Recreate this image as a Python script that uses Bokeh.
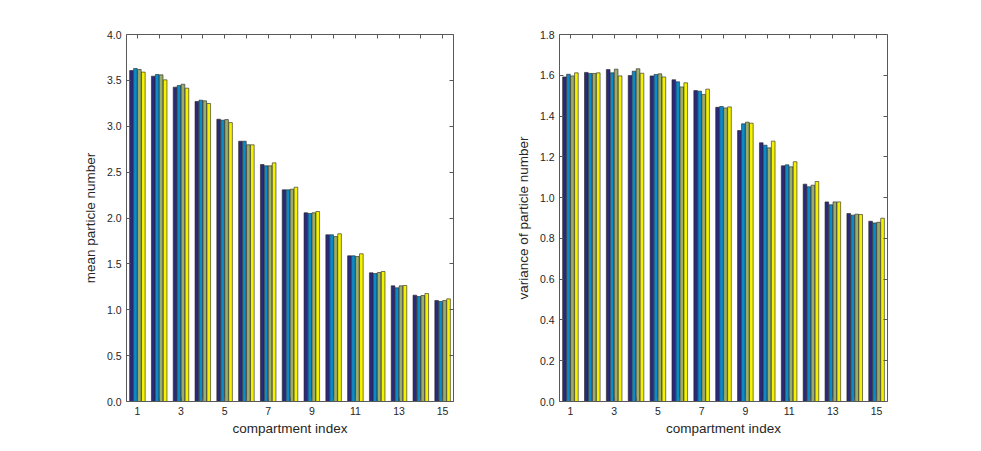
import numpy as np
from bokeh.plotting import figure
from bokeh.layouts import row
from bokeh.models import Range1d, LinearAxis, FixedTicker, ColumnDataSource
from bokeh.embed import file_html
from bokeh.resources import INLINE

compartments = list(range(1, 16))
tick_labels = {i: (str(i) if i % 2 == 1 else "") for i in compartments}

# mean particle number, 4 series
mean_s1 = [3.607, 3.546, 3.426, 3.270, 3.077, 2.837, 2.583, 2.307, 2.057, 1.817, 1.588, 1.403, 1.261, 1.159, 1.101]
mean_s2 = [3.630, 3.564, 3.444, 3.284, 3.066, 2.837, 2.569, 2.307, 2.049, 1.817, 1.588, 1.395, 1.239, 1.144, 1.090]
mean_s3 = [3.618, 3.560, 3.458, 3.277, 3.073, 2.798, 2.569, 2.314, 2.057, 1.798, 1.580, 1.406, 1.261, 1.155, 1.101]
mean_s4 = [3.590, 3.506, 3.415, 3.248, 3.040, 2.798, 2.601, 2.336, 2.071, 1.828, 1.610, 1.417, 1.264, 1.177, 1.119]

# variance of particle number, 4 series
var_s1 = [1.592, 1.614, 1.628, 1.599, 1.597, 1.578, 1.525, 1.443, 1.329, 1.269, 1.156, 1.066, 0.979, 0.922, 0.884]
var_s2 = [1.605, 1.609, 1.612, 1.620, 1.604, 1.568, 1.522, 1.447, 1.362, 1.257, 1.161, 1.053, 0.965, 0.914, 0.876]
var_s3 = [1.597, 1.609, 1.630, 1.632, 1.607, 1.543, 1.506, 1.440, 1.370, 1.244, 1.151, 1.061, 0.979, 0.919, 0.879]
var_s4 = [1.612, 1.612, 1.597, 1.610, 1.592, 1.563, 1.532, 1.445, 1.365, 1.277, 1.176, 1.079, 0.979, 0.917, 0.899]

colors = ["#2b2a7a", "#0d8bc8", "#9aad69", "#f4f200"]

left_ticks = [0.0, 0.5, 1.0, 1.5, 2.0, 2.5, 3.0, 3.5, 4.0]
right_ticks = [0.0, 0.2, 0.4, 0.6, 0.8, 1.0, 1.2, 1.4, 1.6, 1.8]

FONT = "Liberation Sans"
TXT = "#262626"
AX = "#595959"

n_series = 4
group_w = n_series / (n_series + 1.5)
slot = group_w / n_series
bar_w = slot * 0.92


def style_axis(ax):
    ax.axis_line_color = AX
    ax.major_tick_line_color = AX
    ax.major_tick_in = 4
    ax.major_tick_out = 0
    ax.minor_tick_line_color = None
    ax.major_label_text_font = FONT
    ax.major_label_text_color = TXT
    ax.major_label_text_font_size = "10.5px"
    ax.axis_label_text_font = FONT
    ax.axis_label_text_color = TXT
    ax.axis_label_text_font_size = "13.5px"
    ax.axis_label_text_font_style = "normal"


def make_panel(series, ymax, yticks, ylabel, ml, mr, fw):
    p = figure(frame_width=fw, frame_height=367, output_backend="svg",
               toolbar_location=None, x_range=Range1d(0.5, 15.5),
               y_range=Range1d(0, ymax),
               min_border_left=ml, min_border_right=mr,
               min_border_top=34, min_border_bottom=42)
    p.xgrid.visible = False
    p.ygrid.visible = False
    p.outline_line_color = None
    p.background_fill_color = "white"
    p.border_fill_color = "white"
    for k, vals in enumerate(series):
        off = (k - (n_series - 1) / 2) * slot
        src = ColumnDataSource(dict(x=np.array(compartments) + off, top=vals))
        p.vbar(x="x", top="top", width=bar_w, bottom=0, source=src,
               fill_color=colors[k], line_color="#222222", line_width=0.6)
    p.xaxis.ticker = FixedTicker(ticks=compartments)
    p.xaxis.major_label_overrides = tick_labels
    p.xaxis.axis_label = "compartment index"
    p.yaxis.ticker = FixedTicker(ticks=yticks)
    p.yaxis.major_label_overrides = {t: f"{t:.1f}" for t in yticks}
    p.yaxis.axis_label = ylabel
    p.xaxis.axis_label_standoff = 3
    p.yaxis.axis_label_standoff = 6
    p.xaxis.major_label_standoff = 5
    p.yaxis.major_label_standoff = 5
    style_axis(p.xaxis[0])
    style_axis(p.yaxis[0])
    top = LinearAxis(ticker=FixedTicker(ticks=compartments),
                     major_label_overrides={t: "" for t in compartments})
    style_axis(top)
    top.major_label_standoff = 0
    p.add_layout(top, "above")
    right = LinearAxis(ticker=FixedTicker(ticks=yticks),
                       major_label_overrides={t: "" for t in yticks})
    style_axis(right)
    right.major_label_standoff = 0
    p.add_layout(right, "right")
    return p


p1 = make_panel([mean_s1, mean_s2, mean_s3, mean_s4], 4.0, left_ticks,
                "mean particle number", 126, 12, 327)
p2 = make_panel([var_s1, var_s2, var_s3, var_s4], 1.8, right_ticks,
                "variance of particle number", 94, 12, 328)

layout = row(p1, p2)
open("out.html", "w").write(file_html(layout, INLINE))
